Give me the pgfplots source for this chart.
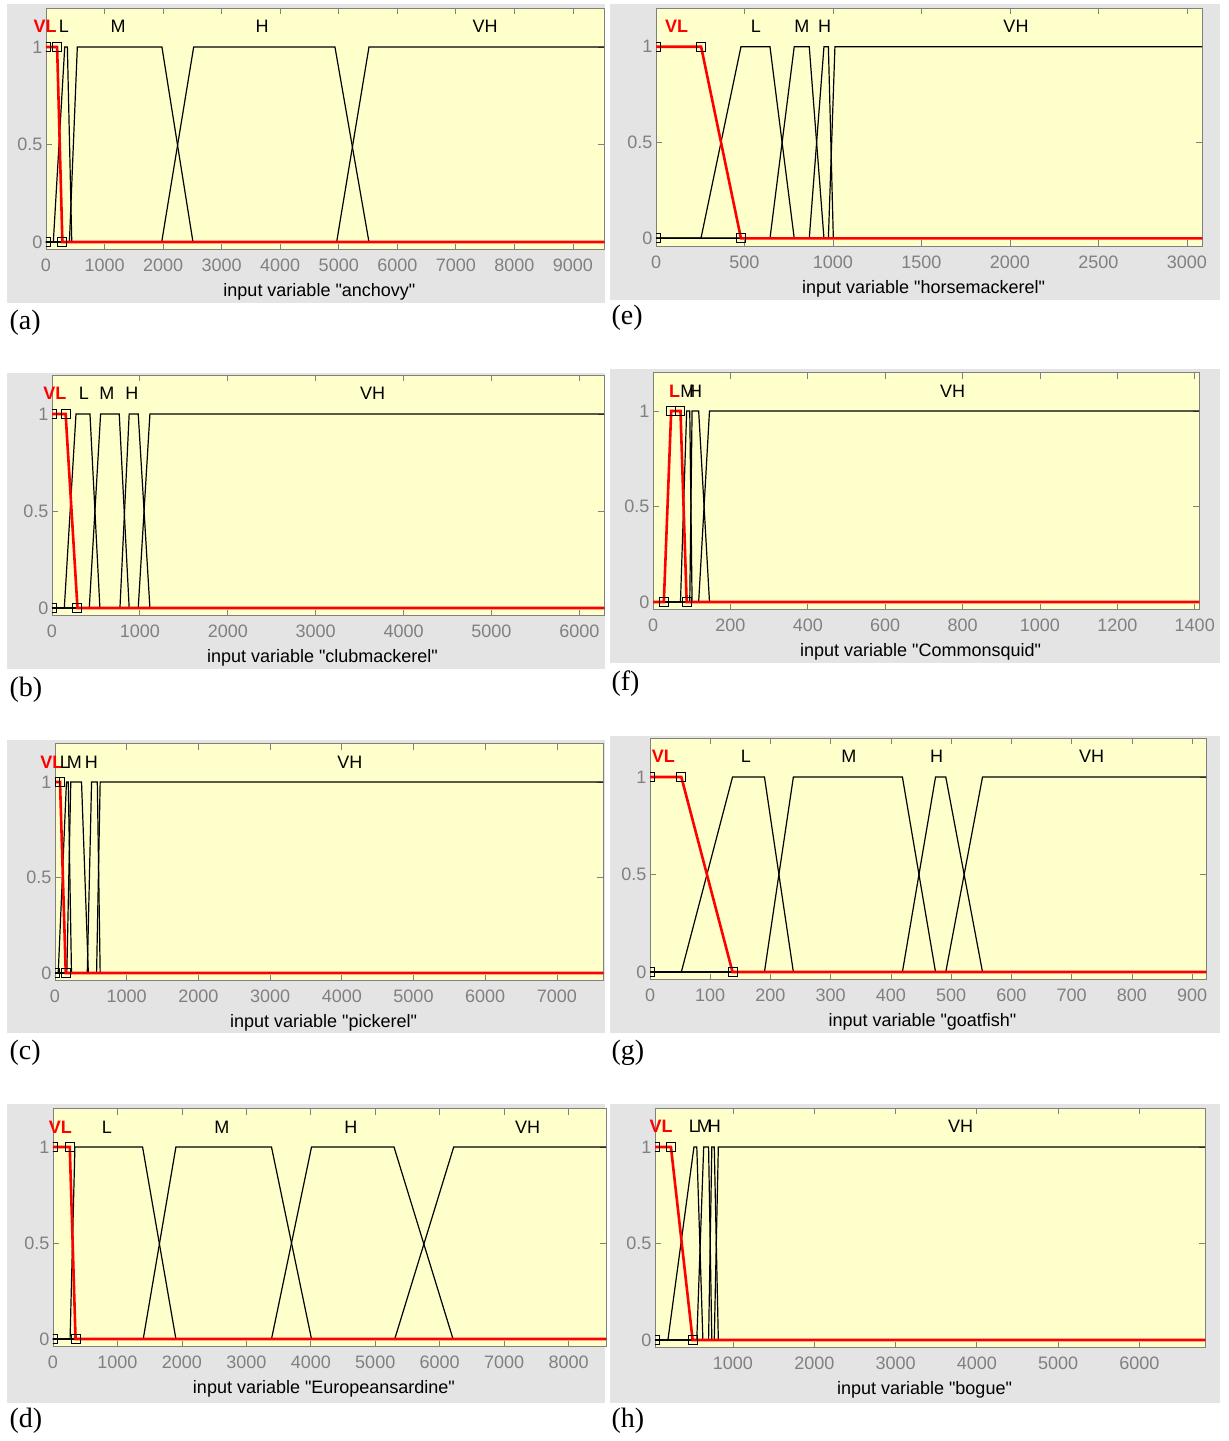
\documentclass[border=0pt]{standalone}
\usepackage{fontspec}
\setmainfont{Liberation Sans}
\newfontfamily\plainsans{Liberation Sans}
\newfontfamily\serifTimes{Liberation Serif}
\usepackage{pgfplots}
\pgfplotsset{compat=1.18}
\definecolor{mfyellow}{RGB}{255,255,204}
\definecolor{figgray}{RGB}{228,228,228}
\definecolor{tickgray}{RGB}{128,128,128}
\definecolor{mfred}{RGB}{255,0,0}
\pgfplotsset{
  mfaxis/.style={
    scale only axis,
    anchor=south west,
    ymin=-0.04, ymax=1.2,
    ytick={0,0.5,1},
    axis background/.style={fill=mfyellow},
    axis line style={tickgray, line width=0.8pt},
    tick style={tickgray, line width=0.8pt},
    major tick length=6pt,
    tick align=inside,
    tick pos=both,
    ticklabel style={font=\plainsans\fontsize{18}{21}\selectfont, text=tickgray},
    /pgf/number format/assume math mode=true,
    /pgf/number format/1000 sep={},
    xticklabel style={yshift=-6pt},
    xlabel style={font=\plainsans\fontsize{18}{21}\selectfont, anchor=base, yshift=-47pt, at={(axis description cs:0.49,0)}},
    clip mode=individual,
    clip marker paths=true,
  },
  mf/.style={black, line width=1.2pt, mark=none},
  sel/.style={mfred, line width=2.6pt, mark=none},
  vtx/.style={only marks, mark=square, mark size=4.5pt, mark options={black, line width=1pt, fill=none}},
}
\tikzset{
  mflab/.style={font=\plainsans\fontsize{18}{21}\selectfont, text=black},
  sellab/.style={font=\plainsans\fontsize{18}{21}\selectfont\bfseries, text=mfred},
  letter/.style={anchor=west, font=\serifTimes\fontsize{28}{30}\selectfont},
}
\begin{document}
\begin{tikzpicture}
\useasboundingbox (0,0) rectangle (1229pt,-1441pt);
\fill[white] (0,0) rectangle (1229pt,-1441pt);
% figure backgrounds
\fill[figgray] (7pt,-4pt) rectangle (605pt,-303pt);
\fill[figgray] (610pt,-4pt) rectangle (1220pt,-300pt);
\fill[figgray] (7pt,-373pt) rectangle (605pt,-669pt);
\fill[figgray] (610pt,-369pt) rectangle (1220pt,-663pt);
\fill[figgray] (7pt,-740pt) rectangle (605pt,-1033pt);
\fill[figgray] (610pt,-736pt) rectangle (1220pt,-1033pt);
\fill[figgray] (7pt,-1104pt) rectangle (605pt,-1403pt);
\fill[figgray] (610pt,-1104pt) rectangle (1220pt,-1403pt);

% (a) anchovy
\begin{axis}[mfaxis, at={(46pt,-249.8pt)}, width=558pt, height=241.8pt,
  xmin=0, xmax=9530, xtick={0,1000,...,9000},
  xlabel={input variable "anchovy"}]
\addplot[mf] coordinates {(0,0) (125,0) (320,1) (365,1) (440,0) (9530,0)};
\addplot[mf] coordinates {(0,0) (400,0) (535,1) (1980,1) (2510,0) (9530,0)};
\addplot[mf] coordinates {(0,0) (1976,0) (2522,1) (4935,1) (5516,0) (9530,0)};
\addplot[mf] coordinates {(0,0) (4964,0) (5516,1) (9530,1)};
\addplot[sel] coordinates {(0,1) (190,1) (280,0) (9530,0)};
\addplot[vtx] coordinates {(0,0) (0,1) (190,1) (280,0)};
\node[sellab] at (axis cs:-15,1.105) {VL};
\node[mflab] at (axis cs:307,1.105) {L};
\node[mflab] at (axis cs:1230,1.105) {M};
\node[mflab] at (axis cs:3690,1.105) {H};
\node[mflab] at (axis cs:7500,1.105) {VH};
\end{axis}

% (b) clubmackerel
\begin{axis}[mfaxis, at={(52pt,-615.8pt)}, width=552pt, height=240.6pt,
  xmin=0, xmax=6280, xtick={0,1000,...,6000},
  xlabel={input variable "clubmackerel"}]
\addplot[mf] coordinates {(0,0) (140,0) (273,1) (432,1) (545,0) (6280,0)};
\addplot[mf] coordinates {(0,0) (424,0) (553,1) (765,1) (878,0) (6280,0)};
\addplot[mf] coordinates {(0,0) (773,0) (878,1) (981,1) (1114,0) (6280,0)};
\addplot[mf] coordinates {(0,0) (981,0) (1114,1) (6280,1)};
\addplot[sel] coordinates {(0,1) (155,1) (290,0) (6280,0)};
\addplot[vtx] coordinates {(0,0) (0,1) (155,1) (290,0)};
\node[sellab] at (axis cs:34,1.105) {VL};
\node[mflab] at (axis cs:364,1.105) {L};
\node[mflab] at (axis cs:625,1.105) {M};
\node[mflab] at (axis cs:909,1.105) {H};
\node[mflab] at (axis cs:3648,1.105) {VH};
\end{axis}

% (c) pickerel
\begin{axis}[mfaxis, at={(55pt,-980.6pt)}, width=548pt, height=236.8pt,
  xmin=0, xmax=7643, xtick={0,1000,...,7000},
  xlabel={input variable "pickerel"}]
\addplot[mf] coordinates {(0,0) (45,0) (160,1) (185,1) (230,0) (7643,0)};
\addplot[mf] coordinates {(0,0) (165,0) (220,1) (370,1) (465,0) (7643,0)};
\addplot[mf] coordinates {(0,0) (450,0) (510,1) (590,1) (630,0) (7643,0)};
\addplot[mf] coordinates {(0,0) (580,0) (630,1) (7643,1)};
\addplot[sel] coordinates {(0,1) (70,1) (150,0) (7643,0)};
\addplot[vtx] coordinates {(0,0) (0,1) (70,1) (150,0)};
\node[sellab] at (axis cs:-42,1.105) {VL};
\node[mflab] at (axis cs:139,1.105) {L};
\node[mflab] at (axis cs:270,1.105) {M};
\node[mflab] at (axis cs:507,1.105) {H};
\node[mflab] at (axis cs:4114,1.105) {VH};
\end{axis}

% (d) Europeansardine
\begin{axis}[mfaxis, at={(53pt,-1346.7pt)}, width=553pt, height=238.1pt,
  xmin=0, xmax=8580, xtick={0,1000,...,8000},
  xlabel={input variable "Europeansardine"}]
\addplot[mf] coordinates {(0,0) (265,0) (340,1) (1390,1) (1907,0) (8580,0)};
\addplot[mf] coordinates {(0,0) (1400,0) (1907,1) (3390,1) (4011,0) (8580,0)};
\addplot[mf] coordinates {(0,0) (3390,0) (4011,1) (5291,1) (6207,0) (8580,0)};
\addplot[mf] coordinates {(0,0) (5302,0) (6217,1) (8580,1)};
\addplot[sel] coordinates {(0,1) (260,1) (350,0) (8580,0)};
\addplot[vtx] coordinates {(0,0) (0,1) (260,1) (350,0)};
\node[sellab] at (axis cs:115,1.105) {VL};
\node[mflab] at (axis cs:835,1.105) {L};
\node[mflab] at (axis cs:2620,1.105) {M};
\node[mflab] at (axis cs:4620,1.105) {H};
\node[mflab] at (axis cs:7364,1.105) {VH};
\end{axis}

% (e) horsemackerel
\begin{axis}[mfaxis, at={(656pt,-246pt)}, width=546pt, height=237.6pt,
  xmin=0, xmax=3085, xtick={0,500,...,3000},
  xlabel={input variable "horsemackerel"}]
\addplot[mf] coordinates {(0,0) (254,0) (480,1) (644,1) (781,0) (3085,0)};
\addplot[mf] coordinates {(0,0) (644,0) (781,1) (866,1) (949,0) (3085,0)};
\addplot[mf] coordinates {(0,0) (866,0) (949,1) (974,1) (1002,0) (3085,0)};
\addplot[mf] coordinates {(0,0) (974,0) (1011,1) (3085,1)};
\addplot[sel] coordinates {(0,1) (255,1) (480,0) (3085,0)};
\addplot[vtx] coordinates {(0,0) (0,1) (255,1) (480,0)};
\node[sellab] at (axis cs:116,1.105) {VL};
\node[mflab] at (axis cs:564,1.105) {L};
\node[mflab] at (axis cs:824,1.105) {M};
\node[mflab] at (axis cs:953,1.105) {H};
\node[mflab] at (axis cs:2034,1.105) {VH};
\end{axis}

% (f) Commonsquid
\begin{axis}[mfaxis, at={(653pt,-609.6pt)}, width=546pt, height=236.8pt,
  xmin=0, xmax=1411, xtick={0,200,...,1400},
  xlabel={input variable "Commonsquid"}]
\addplot[mf] coordinates {(0,0) (71,0) (87,1) (95,1) (101,0) (1411,0)};
\addplot[mf] coordinates {(0,0) (95,0) (101,1) (118,1) (146,0) (1411,0)};
\addplot[mf] coordinates {(0,0) (118,0) (146,1) (1411,1)};
\addplot[sel] coordinates {(0,0) (28,0) (47,1) (71,1) (87,0) (1411,0)};
\addplot[vtx] coordinates {(28,0) (47,1) (71,1) (87,0)};
\node[sellab] at (axis cs:56,1.105) {L};
\node[mflab] at (axis cs:90,1.105) {M};
\node[mflab] at (axis cs:110,1.105) {H};
\node[mflab] at (axis cs:774,1.105) {VH};
\end{axis}

% (g) goatfish
\begin{axis}[mfaxis, at={(650pt,-979.8pt)}, width=556pt, height=241.8pt,
  xmin=0, xmax=923, xtick={0,100,...,900},
  xlabel={input variable "goatfish"}]
\addplot[mf] coordinates {(0,0) (52,0) (137,1) (190,1) (238,0) (923,0)};
\addplot[mf] coordinates {(0,0) (190,0) (238,1) (419,1) (474,0) (923,0)};
\addplot[mf] coordinates {(0,0) (419,0) (474,1) (491,1) (552,0) (923,0)};
\addplot[mf] coordinates {(0,0) (491,0) (552,1) (923,1)};
\addplot[sel] coordinates {(0,1) (52,1) (137,0) (923,0)};
\addplot[vtx] coordinates {(0,0) (0,1) (52,1) (137,0)};
\node[sellab] at (axis cs:22,1.105) {VL};
\node[mflab] at (axis cs:159,1.105) {L};
\node[mflab] at (axis cs:330,1.105) {M};
\node[mflab] at (axis cs:476,1.105) {H};
\node[mflab] at (axis cs:733,1.105) {VH};
\end{axis}

% (h) bogue
\begin{axis}[mfaxis, at={(655pt,-1347.7pt)}, width=550pt, height=239.3pt,
  xmin=41, xmax=6806, xtick={1000,2000,...,6000},
  xlabel={input variable "bogue"}]
\addplot[mf] coordinates {(41,0) (200,0) (520,1) (555,1) (630,0) (6806,0)};
\addplot[mf] coordinates {(41,0) (555,0) (640,1) (700,1) (740,0) (6806,0)};
\addplot[mf] coordinates {(41,0) (700,0) (740,1) (770,1) (820,0) (6806,0)};
\addplot[mf] coordinates {(41,0) (770,0) (820,1) (6806,1)};
\addplot[sel] coordinates {(41,1) (237,1) (504,0) (6806,0)};
\addplot[vtx] coordinates {(41,0) (41,1) (237,1) (504,0)};
\node[sellab] at (axis cs:115,1.105) {VL};
\node[mflab] at (axis cs:520,1.105) {L};
\node[mflab] at (axis cs:647,1.105) {M};
\node[mflab] at (axis cs:770,1.105) {H};
\node[mflab] at (axis cs:3800,1.105) {VH};
\end{axis}

% panel letters
\node[letter] at (6pt,-323pt) {(a)};
\node[letter] at (6pt,-690pt) {(b)};
\node[letter] at (6pt,-1053pt) {(c)};
\node[letter] at (6pt,-1421pt) {(d)};
\node[letter] at (608pt,-318pt) {(e)};
\node[letter] at (608pt,-684pt) {(f)};
\node[letter] at (608pt,-1053pt) {(g)};
\node[letter] at (608pt,-1421pt) {(h)};
\end{tikzpicture}
\end{document}
